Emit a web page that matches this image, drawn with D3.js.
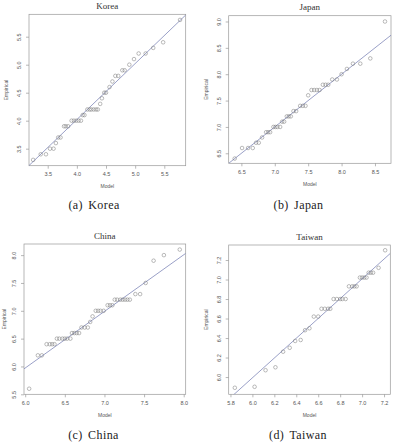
<!DOCTYPE html>
<html>
<head>
<meta charset="utf-8">
<script src="https://cdn.jsdelivr.net/npm/d3@7"></script>
<style>
  body { margin:0; background:#fff; }
  .tick text { font-family:"Liberation Sans",Arial,sans-serif; font-size:5.5px; fill:#555; }
  .tick line { stroke:#888; stroke-width:0.6; }
</style>
</head>
<body>
<svg width="394" height="445"></svg>
<script>
// model (theoretical) quantiles vs empirical quantiles
const koreaModel = [3.25,3.38,3.47,3.54,3.60,3.64,3.68,3.72,3.78,3.81,3.85,3.91,3.95,3.99,4.03,4.07,4.10,4.13,4.18,4.22,4.25,4.29,4.33,4.36,4.40,4.43,4.47,4.50,4.56,4.61,4.66,4.71,4.78,4.82,4.90,4.98,5.06,5.18,5.31,5.48,5.77]
const koreaEmp   = [3.3,3.4,3.4,3.5,3.5,3.6,3.7,3.7,3.9,3.9,3.9,4.0,4.0,4.0,4.0,4.0,4.1,4.1,4.2,4.2,4.2,4.2,4.2,4.2,4.3,4.4,4.5,4.5,4.6,4.7,4.8,4.8,4.9,4.9,5.0,5.1,5.2,5.2,5.3,5.4,5.8]

const japanModel = [6.40,6.51,6.60,6.67,6.72,6.76,6.81,6.87,6.90,6.93,6.98,7.01,7.04,7.08,7.11,7.14,7.18,7.21,7.24,7.28,7.32,7.38,7.42,7.46,7.50,7.55,7.59,7.63,7.67,7.72,7.76,7.80,7.86,7.93,8.00,8.08,8.17,8.28,8.43,8.65]
const japanEmp   = [6.4,6.6,6.6,6.6,6.7,6.7,6.8,6.9,6.9,6.9,7.0,7.0,7.0,7.0,7.1,7.1,7.2,7.2,7.2,7.3,7.3,7.4,7.4,7.4,7.6,7.7,7.7,7.7,7.7,7.8,7.8,7.8,7.9,7.9,8.0,8.1,8.2,8.2,8.3,9.0]

const chinaModel = [6.05,6.16,6.21,6.27,6.31,6.34,6.37,6.40,6.43,6.47,6.50,6.53,6.57,6.59,6.62,6.65,6.68,6.71,6.75,6.79,6.82,6.85,6.89,6.92,6.95,6.99,7.04,7.07,7.10,7.13,7.16,7.20,7.23,7.26,7.29,7.32,7.39,7.45,7.52,7.62,7.75,7.95]
const chinaEmp   = [5.6,6.2,6.2,6.4,6.4,6.4,6.4,6.5,6.5,6.5,6.5,6.5,6.5,6.6,6.6,6.6,6.6,6.7,6.7,6.7,6.8,6.9,7.0,7.0,7.0,7.0,7.1,7.1,7.1,7.2,7.2,7.2,7.2,7.2,7.2,7.2,7.3,7.3,7.5,7.9,8.0,8.1]

const taiwanModel = [5.84,6.02,6.12,6.21,6.28,6.34,6.39,6.44,6.48,6.52,6.56,6.60,6.63,6.66,6.69,6.71,6.74,6.77,6.80,6.82,6.85,6.88,6.91,6.93,6.95,6.98,7.00,7.02,7.04,7.06,7.08,7.10,7.15,7.21]
const taiwanEmp   = [5.89,5.90,6.07,6.10,6.26,6.30,6.37,6.38,6.48,6.50,6.62,6.62,6.70,6.70,6.70,6.70,6.80,6.80,6.80,6.80,6.80,6.93,6.93,6.93,6.93,7.02,7.02,7.02,7.02,7.07,7.07,7.07,7.12,7.30]

// tick labels
const koreaXTicks = [3.5,4.0,4.5,5.0,5.5], koreaYTicks = [3.5,4.0,4.5,5.0,5.5]
const japanXTicks = [6.5,7.0,7.5,8.0,8.5], japanYTicks = [6.5,7.0,7.5,8.0,8.5,9.0]
const chinaXTicks = [6.0,6.5,7.0,7.5,8.0], chinaYTicks = [5.5,6.0,6.5,7.0,7.5,8.0]
const taiwanXTicks = [5.8,6.0,6.2,6.4,6.6,6.8,7.0,7.2], taiwanYTicks = [6.0,6.2,6.4,6.6,6.8,7.0,7.2]

// reference line: [intercept, slope]
const koreaLine = [0.02,1], japanLine = [0,1], chinaLine = [-0.13,1.017], taiwanLine = [-0.098,1.015]

const titles = ['Korea','Japan','China','Taiwan']
const captions = ['(a) Korea','(b) Japan','(c) China','(d) Taiwan']

const panels = [
  {model:koreaModel, emp:koreaEmp, xt:koreaXTicks, yt:koreaYTicks, line:koreaLine,
   box:[29,14.3,185.7,165.7], xd:[3.179,5.867], yd:[3.196,5.9], cap:[94,209]},
  {model:japanModel, emp:japanEmp, xt:japanXTicks, yt:japanYTicks, line:japanLine,
   box:[228.7,15.7,391,163.3], xd:[6.31,8.74], yd:[6.31,9.11], cap:[298.5,209]},
  {model:chinaModel, emp:chinaEmp, xt:chinaXTicks, yt:chinaYTicks, line:chinaLine,
   box:[24,244,185.7,394.3], xd:[5.985,8.025], yd:[5.5,8.2], cap:[93.5,439]},
  {model:taiwanModel, emp:taiwanEmp, xt:taiwanXTicks, yt:taiwanYTicks, line:taiwanLine,
   box:[228.7,245,390.3,394.3], xd:[5.784,7.257], yd:[5.823,7.354], cap:[298,439]}
]

const svg = d3.select('svg')
const fmt = d3.format('.1f')

panels.forEach((p,i) => {
  const [x0,y0,x1,y1] = p.box
  const x = d3.scaleLinear().domain(p.xd).range([x0,x1])
  const y = d3.scaleLinear().domain(p.yd).range([y1,y0])
  const g = svg.append('g')

  g.append('clipPath').attr('id','clip'+i)
    .append('rect').attr('x',x0).attr('y',y0).attr('width',x1-x0).attr('height',y1-y0)

  const xAxis = g.append('g').attr('transform',`translate(0,${y1})`)
    .call(d3.axisBottom(x).tickValues(p.xt).tickFormat(fmt).tickSize(3).tickPadding(3.5))
  xAxis.select('.domain').remove()

  const yAxis = g.append('g').attr('transform',`translate(${x0},0)`)
    .call(d3.axisLeft(y).tickValues(p.yt).tickFormat(fmt).tickSize(3))
  yAxis.select('.domain').remove()
  yAxis.selectAll('text')
    .attr('transform','rotate(-90)')
    .attr('text-anchor','middle')
    .attr('x',0).attr('y',-10).attr('dy','0.35em')

  g.append('rect')
    .attr('x',x0).attr('y',y0).attr('width',x1-x0).attr('height',y1-y0)
    .attr('fill','none').attr('stroke','#999').attr('stroke-width',0.7)

  const [a,b] = p.line
  g.append('line')
    .attr('clip-path',`url(#clip${i})`)
    .attr('x1',x(p.xd[0])).attr('y1',y(a+b*p.xd[0]))
    .attr('x2',x(p.xd[1])).attr('y2',y(a+b*p.xd[1]))
    .attr('stroke','#7880b4').attr('stroke-width',0.75)

  g.selectAll('.pt').data(p.model).enter().append('circle')
    .attr('class','pt')
    .attr('cx',d => x(d))
    .attr('cy',(d,j) => y(p.emp[j]))
    .attr('r',1.8)
    .attr('fill','none').attr('stroke','#777').attr('stroke-width',0.5)

  g.append('text')
    .attr('x',(x0+x1)/2).attr('y',y0-5.5)
    .attr('text-anchor','middle')
    .style('font-family','"Liberation Serif","Times New Roman",serif')
    .style('font-size','9px').attr('fill','#333')
    .text(titles[i])

  g.append('text')
    .attr('x',(x0+x1)/2).attr('y',y1+20.5).attr('dy','0.35em')
    .attr('text-anchor','middle')
    .style('font-family','"Liberation Sans",Arial,sans-serif')
    .style('font-size','5px').attr('fill','#555')
    .text('Model')

  // keep the left label fully inside the page
  g.append('text')
    .attr('transform',`translate(${Math.max(x0-22.5,4)},${(y0+y1)/2}) rotate(-90)`)
    .attr('dy','0.35em')
    .attr('text-anchor','middle')
    .style('font-family','"Liberation Sans",Arial,sans-serif')
    .style('font-size','5px').attr('fill','#555')
    .text('Empirical')

  svg.append('text')
    .attr('x',p.cap[0]).attr('y',p.cap[1])
    .attr('text-anchor','middle')
    .style('font-family','"Liberation Serif","Times New Roman",serif')
    .style('font-size','12px').style('letter-spacing','0.4px').style('word-spacing','2px')
    .attr('fill','#222')
    .text(captions[i])
})
</script>
</body>
</html>
